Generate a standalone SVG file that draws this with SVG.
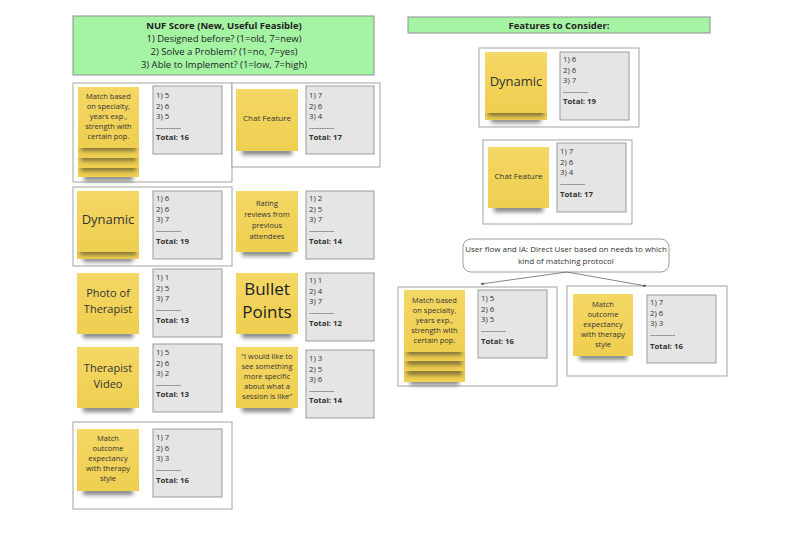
<svg xmlns="http://www.w3.org/2000/svg" width="800" height="533" viewBox="0 0 800 533">
<defs>
<linearGradient id="yg" x1="0" y1="0" x2="0" y2="1"><stop offset="0" stop-color="#F4D765"/><stop offset="1" stop-color="#EFCF50"/></linearGradient>
<filter id="blur" x="-30%" y="-150%" width="160%" height="400%"><feGaussianBlur stdDeviation="2"/></filter>
<marker id="ah" viewBox="0 0 6 6" refX="5" refY="3" markerWidth="4" markerHeight="4" orient="auto"><path d="M0,0 L6,3 L0,6 z" fill="#555"/></marker>
<style>
.frame{fill:#fff;stroke:#a3a3a3;stroke-width:1}
.hdr{fill:#A4F4A4;stroke:#8f8f8f;stroke-width:1}
.st{fill:url(#yg)}
.sh{fill:#222;opacity:.55;filter:url(#blur)}
.gb{fill:#E5E5E5;stroke:#9b9b9b;stroke-width:1}
text{font-family:"Open Sans","Liberation Sans",sans-serif;fill:#333}
.sc{font-size:7.8px}
.b{font-weight:bold}
.sm{font-size:7.5px;text-anchor:middle}
.ht{font-size:9.5px;text-anchor:middle;fill:#222}
.con{fill:none;stroke:#666;stroke-width:0.8}
</style>
</defs>
<rect width="800" height="533" fill="#fff"/>

<!-- headers -->
<g id="nuf-header">
<rect class="hdr" x="73" y="16" width="301" height="59"/>
<text class="ht b" x="224" y="29">NUF Score (New, Useful Feasible)</text>
<text class="ht" x="224" y="42">1) Designed before? (1=old, 7=new)</text>
<text class="ht" x="224" y="55">2) Solve a Problem? (1=no, 7=yes)</text>
<text class="ht" x="224" y="68">3) Able to Implement? (1=low, 7=high)</text>
</g>
<g id="features-header">
<rect class="hdr" x="408" y="17" width="302" height="16"/>
<text class="ht b" x="559" y="28.5">Features to Consider:</text>
</g>

<!-- frames -->
<g id="frames">
<rect class="frame" x="73" y="83" width="159" height="99"/>
<rect class="frame" x="232" y="83" width="148" height="84"/>
<rect class="frame" x="73" y="187" width="159" height="79"/>
<rect class="frame" x="73" y="422" width="159" height="87"/>
<rect class="frame" x="479" y="48" width="160" height="79"/>
<rect class="frame" x="483" y="140" width="149" height="84"/>
<rect class="frame" x="398" y="287" width="159" height="99"/>
<rect class="frame" x="567" y="286" width="160" height="90"/>
</g>

<!-- Left: Match based (stacked) -->
<g id="match-specialty-L">
<rect class="sh" x="84" y="175" width="49" height="6"/>
<rect class="st" x="78" y="87" width="61" height="90"/>
<rect class="sh" x="81" y="165" width="55" height="6"/>
<rect class="st" x="78" y="87" width="61" height="81"/>
<rect class="sh" x="81" y="155" width="55" height="6"/>
<rect class="st" x="78" y="87" width="61" height="71"/>
<rect class="sh" x="81" y="145" width="55" height="6"/>
<rect class="st" x="78" y="87" width="61" height="61"/>
<text class="sm" x="108.5" y="99">Match based</text>
<text class="sm" x="108.5" y="109">on specialty,</text>
<text class="sm" x="108.5" y="119">years exp.,</text>
<text class="sm" x="108.5" y="129">strength with</text>
<text class="sm" x="108.5" y="139">certain pop.</text>
<rect class="gb" x="153" y="86" width="69" height="68"/>
<text class="sc" x="156" y="98">1) 5</text>
<text class="sc" x="156" y="108.5">2) 6</text>
<text class="sc" x="156" y="119">3) 5</text>
<text class="sc" x="156" y="129.5">----------</text>
<text class="sc b" x="156" y="140">Total: 16</text>
</g>

<g id="chat-L">
<rect class="sh" x="242" y="148" width="50" height="7"/>
<rect class="st" x="236" y="89" width="62" height="62"/>
<text class="sm" x="267" y="121" style="font-size:8px">Chat Feature</text>
<rect class="gb" x="306" y="86" width="68" height="68"/>
<text class="sc" x="309" y="98">1) 7</text>
<text class="sc" x="309" y="108.5">2) 6</text>
<text class="sc" x="309" y="119">3) 4</text>
<text class="sc" x="309" y="129.5">----------</text>
<text class="sc b" x="309" y="140">Total: 17</text>
</g>

<g id="dynamic-L">
<rect class="sh" x="83" y="256" width="50" height="6"/>
<rect class="st" x="77" y="191" width="62" height="68"/>
<rect class="sh" x="80" y="249" width="56" height="6"/>
<rect class="st" x="77" y="191" width="62" height="61"/>
<text x="108" y="224" style="font-size:13px;text-anchor:middle">Dynamic</text>
<rect class="gb" x="153" y="191" width="69" height="68"/>
<text class="sc" x="156" y="201">1) 6</text>
<text class="sc" x="156" y="211.5">2) 6</text>
<text class="sc" x="156" y="222">3) 7</text>
<text class="sc" x="156" y="232.5">----------</text>
<text class="sc b" x="156" y="244">Total: 19</text>
</g>

<g id="rating-L">
<rect class="sh" x="242" y="249" width="50" height="7"/>
<rect class="st" x="236" y="191" width="62" height="61"/>
<text class="sm" x="267" y="206">Rating</text>
<text class="sm" x="267" y="217">reviews from</text>
<text class="sm" x="267" y="228">previous</text>
<text class="sm" x="267" y="239">attendees</text>
<rect class="gb" x="306" y="191" width="68" height="68"/>
<text class="sc" x="309" y="201">1) 2</text>
<text class="sc" x="309" y="211.5">2) 5</text>
<text class="sc" x="309" y="222">3) 7</text>
<text class="sc" x="309" y="232.5">----------</text>
<text class="sc b" x="309" y="244">Total: 14</text>
</g>

<g id="photo-L">
<rect class="sh" x="83" y="331" width="50" height="7"/>
<rect class="st" x="77" y="273" width="62" height="61"/>
<text x="108" y="297" style="font-size:11px;text-anchor:middle">Photo of</text>
<text x="108" y="313" style="font-size:11px;text-anchor:middle">Therapist</text>
<rect class="gb" x="153" y="269" width="69" height="68"/>
<text class="sc" x="156" y="280">1) 1</text>
<text class="sc" x="156" y="290.5">2) 5</text>
<text class="sc" x="156" y="301">3) 7</text>
<text class="sc" x="156" y="311.5">----------</text>
<text class="sc b" x="156" y="323">Total: 13</text>
</g>

<g id="bullet-L">
<rect class="sh" x="242" y="331" width="50" height="7"/>
<rect class="st" x="236" y="273" width="62" height="61"/>
<text x="267" y="295" style="font-size:17px;text-anchor:middle;fill:#222">Bullet</text>
<text x="267" y="318" style="font-size:17px;text-anchor:middle;fill:#222">Points</text>
<rect class="gb" x="306" y="273" width="68" height="68"/>
<text class="sc" x="309" y="283">1) 1</text>
<text class="sc" x="309" y="293.5">2) 4</text>
<text class="sc" x="309" y="304">3) 7</text>
<text class="sc" x="309" y="314.5">----------</text>
<text class="sc b" x="309" y="326">Total: 12</text>
</g>

<g id="video-L">
<rect class="sh" x="83" y="405" width="50" height="7"/>
<rect class="st" x="77" y="347" width="62" height="61"/>
<text x="108" y="372" style="font-size:11px;text-anchor:middle">Therapist</text>
<text x="108" y="388" style="font-size:11px;text-anchor:middle">Video</text>
<rect class="gb" x="153" y="344" width="69" height="68"/>
<text class="sc" x="156" y="355">1) 5</text>
<text class="sc" x="156" y="365.5">2) 6</text>
<text class="sc" x="156" y="376">3) 2</text>
<text class="sc" x="156" y="386.5">----------</text>
<text class="sc b" x="156" y="397">Total: 13</text>
</g>

<g id="quote-L">
<rect class="sh" x="242" y="405" width="50" height="7"/>
<rect class="st" x="236" y="347" width="62" height="61"/>
<text class="sm" x="267" y="359">“I would like to</text>
<text class="sm" x="267" y="369">see something</text>
<text class="sm" x="267" y="379">more specific</text>
<text class="sm" x="267" y="389">about what a</text>
<text class="sm" x="267" y="399">session is like”</text>
<rect class="gb" x="306" y="350" width="68" height="68"/>
<text class="sc" x="309" y="361">1) 3</text>
<text class="sc" x="309" y="371.5">2) 5</text>
<text class="sc" x="309" y="382">3) 6</text>
<text class="sc" x="309" y="392.5">----------</text>
<text class="sc b" x="309" y="403">Total: 14</text>
</g>

<g id="outcome-L">
<rect class="sh" x="83" y="488" width="50" height="7"/>
<rect class="st" x="77" y="429" width="62" height="62"/>
<text class="sm" x="108" y="441">Match</text>
<text class="sm" x="108" y="451">outcome</text>
<text class="sm" x="108" y="461">expectancy</text>
<text class="sm" x="108" y="471">with therapy</text>
<text class="sm" x="108" y="481">style</text>
<rect class="gb" x="153" y="429" width="69" height="68"/>
<text class="sc" x="156" y="440">1) 7</text>
<text class="sc" x="156" y="450.5">2) 6</text>
<text class="sc" x="156" y="461">3) 3</text>
<text class="sc" x="156" y="471.5">----------</text>
<text class="sc b" x="156" y="483">Total: 16</text>
</g>

<!-- Right column -->
<g id="dynamic-R">
<rect class="sh" x="491" y="117" width="50" height="6"/>
<rect class="st" x="485" y="52" width="62" height="68"/>
<rect class="sh" x="488" y="110" width="56" height="6"/>
<rect class="st" x="485" y="52" width="62" height="61"/>
<text x="516" y="86" style="font-size:13px;text-anchor:middle">Dynamic</text>
<rect class="gb" x="560" y="52" width="69" height="68"/>
<text class="sc" x="563" y="62">1) 6</text>
<text class="sc" x="563" y="72.5">2) 6</text>
<text class="sc" x="563" y="83">3) 7</text>
<text class="sc" x="563" y="93.5">----------</text>
<text class="sc b" x="563" y="104">Total: 19</text>
</g>

<g id="chat-R">
<rect class="sh" x="494" y="205" width="49" height="7"/>
<rect class="st" x="488" y="147" width="61" height="61"/>
<text class="sm" x="518.5" y="179" style="font-size:8px">Chat Feature</text>
<rect class="gb" x="557" y="143" width="69" height="69"/>
<text class="sc" x="560" y="154">1) 7</text>
<text class="sc" x="560" y="164.5">2) 6</text>
<text class="sc" x="560" y="175">3) 4</text>
<text class="sc" x="560" y="185.5">----------</text>
<text class="sc b" x="560" y="197">Total: 17</text>
</g>

<g id="user-flow">
<rect x="463" y="239" width="206" height="33" rx="8" fill="#fff" stroke="#888" stroke-width="0.8"/>
<text x="566" y="252" style="font-size:8px;text-anchor:middle">User flow and IA: Direct User based on needs to which</text>
<text x="566" y="264" style="font-size:8px;text-anchor:middle">kind of matching protocol</text>
</g>

<g id="connectors">
<path class="con" d="M567,272 L481,284" marker-end="url(#ah)"/>
<path class="con" d="M567,272 L646,286" marker-end="url(#ah)"/>
</g>

<g id="match-specialty-R">
<rect class="sh" x="410" y="379" width="49" height="6"/>
<rect class="st" x="404" y="290" width="61" height="92"/>
<rect class="sh" x="407" y="369" width="55" height="6"/>
<rect class="st" x="404" y="290" width="61" height="81"/>
<rect class="sh" x="407" y="359" width="55" height="6"/>
<rect class="st" x="404" y="290" width="61" height="71"/>
<rect class="sh" x="407" y="349" width="55" height="6"/>
<rect class="st" x="404" y="290" width="61" height="62"/>
<text class="sm" x="434.5" y="303">Match based</text>
<text class="sm" x="434.5" y="313">on specialty,</text>
<text class="sm" x="434.5" y="323">years exp.,</text>
<text class="sm" x="434.5" y="333">strength with</text>
<text class="sm" x="434.5" y="343">certain pop.</text>
<rect class="gb" x="478" y="290" width="69" height="68"/>
<text class="sc" x="481" y="301">1) 5</text>
<text class="sc" x="481" y="311.5">2) 6</text>
<text class="sc" x="481" y="322">3) 5</text>
<text class="sc" x="481" y="332.5">----------</text>
<text class="sc b" x="481" y="344">Total: 16</text>
</g>

<g id="outcome-R">
<rect class="sh" x="579" y="353" width="48" height="7"/>
<rect class="st" x="573" y="294" width="60" height="62"/>
<text class="sm" x="603" y="307">Match</text>
<text class="sm" x="603" y="317">outcome</text>
<text class="sm" x="603" y="327">expectancy</text>
<text class="sm" x="603" y="337">with therapy</text>
<text class="sm" x="603" y="347">style</text>
<rect class="gb" x="647" y="295" width="69" height="68"/>
<text class="sc" x="650" y="305">1) 7</text>
<text class="sc" x="650" y="315.5">2) 6</text>
<text class="sc" x="650" y="326">3) 3</text>
<text class="sc" x="650" y="336.5">----------</text>
<text class="sc b" x="650" y="349">Total: 16</text>
</g>
</svg>
